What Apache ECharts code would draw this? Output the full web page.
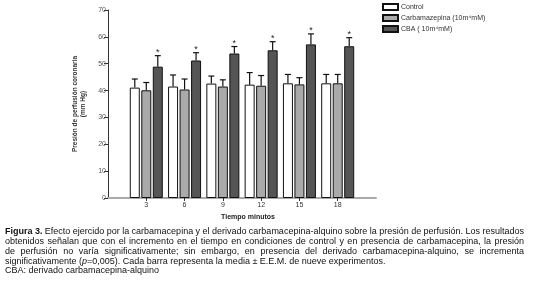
<!DOCTYPE html>
<html>
<head>
<meta charset="utf-8">
<script src="https://cdn.jsdelivr.net/npm/echarts@6/dist/echarts.min.js"></script>
<style>
  html, body { margin: 0; padding: 0; background: #fff; }
  #chart { width: 538px; height: 284px; }
</style>
</head>
<body>
<div id="chart"></div>
<script>
// tiempos (minutos)
var times = ['3', '6', '9', '12', '15', '18'];
// medias y E.E.M.
var controlVals = [41.1, 41.5, 42.6, 42.2, 42.7, 42.7];
var controlErr  = [3.2, 4.3, 2.8, 4.5, 3.3, 3.3];
var carbaVals   = [40.1, 40.4, 41.5, 41.8, 42.3, 42.7];
var carbaErr    = [2.9, 3.9, 2.5, 3.8, 2.5, 3.3];
var cbaVals     = [48.9, 51.2, 53.8, 55.0, 57.2, 56.5];
var cbaErr      = [4.1, 2.9, 2.6, 3.2, 3.9, 3.2];
var yTicks = [0, 10, 20, 30, 40, 50, 60, 70];

var FONT = '"Liberation Sans", Arial, sans-serif';
var CAP_SIZE = 9;
var BAR_W = 10;
var BAR_STEP = 11.5;

// eje con un hueco a cada lado
var axisCats = [''].concat(times).concat(['']);
function pad(arr) { return ['-'].concat(arr).concat(['-']); }

var chart = echarts.init(document.getElementById('chart'));

function errSeries(vals, errs, shift, star) {
  return {
    type: 'custom',
    silent: true,
    z: 5,
    data: vals.map(function (v, i) { return [i + 1, v, v + errs[i]]; }),
    encode: { x: 0, y: [1, 2] },
    renderItem: function (params, api) {
      var x = api.value(0);
      var base = api.coord([x, api.value(1)]);
      var top = api.coord([x, api.value(2)]);
      var cx = base[0] + shift;
      var kids = [
        { type: 'line', shape: { x1: cx, y1: base[1], x2: cx, y2: top[1] }, style: { stroke: '#111', lineWidth: 1.2 } },
        { type: 'line', shape: { x1: cx - 3, y1: top[1], x2: cx + 3, y2: top[1] }, style: { stroke: '#111', lineWidth: 1.2 } }
      ];
      if (star) {
        kids.push({ type: 'text', x: cx, y: top[1] - 3, style: { text: '*', fontSize: 9, fontFamily: FONT, fill: '#223', align: 'center', verticalAlign: 'middle' } });
      }
      return { type: 'group', children: kids };
    }
  };
}

// pie de figura justificado
var ctx = document.createElement('canvas').getContext('2d');
function measure(t, bold) {
  ctx.font = (bold ? 'bold ' : '') + CAP_SIZE + 'px ' + FONT;
  return ctx.measureText(t).width;
}
var capLeft = 5, capRight = 524;
var captionLines = [
  { y: 232, justify: true, words: ['*Figura', '*3.', 'Efecto', 'ejercido', 'por', 'la', 'carbamacepina', 'y', 'el', 'derivado', 'carbamacepina-alquino', 'sobre', 'la', 'presión', 'de', 'perfusión.', 'Los', 'resultados'] },
  { y: 242, justify: true, words: 'obtenidos señalan que con el incremento en el tiempo en condiciones de control y en presencia de carbamacepina, la presión'.split(' ') },
  { y: 252, justify: true, words: 'de perfusión no varía significativamente; sin embargo, en presencia del derivado carbamacepina-alquino, se incrementa'.split(' ') },
  { y: 261.5, justify: false, text: 'significativamente ({i|p}=0,005). Cada barra representa la media ± E.E.M. de nueve experimentos.' },
  { y: 271, justify: false, text: 'CBA: derivado carbamacepina-alquino' }
];
var graphics = [];
captionLines.forEach(function (ln) {
  if (!ln.justify) {
    graphics.push({ type: 'text', x: capLeft, y: ln.y, style: { text: ln.text, fontSize: CAP_SIZE, fontFamily: FONT, fill: '#111', verticalAlign: 'middle', rich: { i: { fontStyle: 'italic', fontSize: CAP_SIZE, fontFamily: FONT, fill: '#111' } } } });
    return;
  }
  var ws = ln.words.map(function (w) {
    var b = w.charAt(0) === '*';
    var t = b ? w.slice(1) : w;
    return { t: t, b: b, w: measure(t, b) };
  });
  var total = ws.reduce(function (s, o) { return s + o.w; }, 0);
  var gap = (capRight - capLeft - total) / (ws.length - 1);
  var x = capLeft;
  ws.forEach(function (o) {
    graphics.push({ type: 'text', x: x, y: ln.y, style: { text: o.t, fontSize: CAP_SIZE, fontFamily: FONT, fontWeight: o.b ? 'bold' : 'normal', fill: '#111', verticalAlign: 'middle' } });
    x += o.w + gap;
  });
});

chart.setOption({
  backgroundColor: '#fff',
  animation: false,
  textStyle: { fontFamily: FONT },
  grid: { left: 108, right: 162, top: 10, bottom: 86 },
  legend: {
    orient: 'vertical',
    left: 382,
    top: 3,
    padding: 0,
    itemWidth: 15,
    itemHeight: 6,
    itemGap: 3,
    icon: 'rect',
    textStyle: { fontSize: 7, color: '#333', fontFamily: FONT, padding: [0, 0, 0, -2] },
    data: ['Control', 'Carbamazepina (10m⁴mM)', 'CBA ( 10m⁴mM)']
  },
  xAxis: {
    type: 'category',
    data: axisCats,
    boundaryGap: false,
    name: 'Tiempo minutos',
    nameLocation: 'middle',
    nameGap: 10,
    nameTextStyle: { fontSize: 7, fontWeight: 'bold', color: '#222', padding: [0, 0, 0, 12], verticalAlign: 'top' },
    axisLine: { lineStyle: { color: '#aaa', width: 2 } },
    axisTick: { length: 3, lineStyle: { color: '#333' }, interval: function (i) { return i > 0 && i < axisCats.length - 1; } },
    axisLabel: { fontSize: 7, color: '#333', margin: 4, interval: 0 },
    splitLine: { show: false }
  },
  yAxis: {
    type: 'value',
    min: yTicks[0],
    max: yTicks[yTicks.length - 1],
    interval: 10,
    name: 'Presión de perfusión coronaria\n(mm Hg)',
    nameLocation: 'middle',
    nameGap: 21,
    nameTextStyle: { fontSize: 6.5, fontWeight: 'bold', color: '#333', lineHeight: 8 },
    axisLine: { show: true, lineStyle: { color: '#333', width: 1 } },
    axisTick: { show: true, length: 4, lineStyle: { color: '#333' } },
    axisLabel: { fontSize: 7, color: '#555', margin: 2 },
    splitLine: { show: false }
  },
  series: [
    { name: 'Control', type: 'bar', data: pad(controlVals), barWidth: BAR_W, barGap: '15%',
      itemStyle: { color: '#fff', borderColor: '#111', borderWidth: 1 } },
    { name: 'Carbamazepina (10m⁴mM)', type: 'bar', data: pad(carbaVals), barWidth: BAR_W, barGap: '15%',
      itemStyle: { color: '#aaaaaa', borderColor: '#111', borderWidth: 1 } },
    { name: 'CBA ( 10m⁴mM)', type: 'bar', data: pad(cbaVals), barWidth: BAR_W, barGap: '15%',
      itemStyle: { color: '#555555', borderColor: '#111', borderWidth: 1 } },
    errSeries(controlVals, controlErr, -BAR_STEP, false),
    errSeries(carbaVals, carbaErr, 0, false),
    errSeries(cbaVals, cbaErr, BAR_STEP, true)
  ],
  graphic: graphics
});
</script>
</body>
</html>
